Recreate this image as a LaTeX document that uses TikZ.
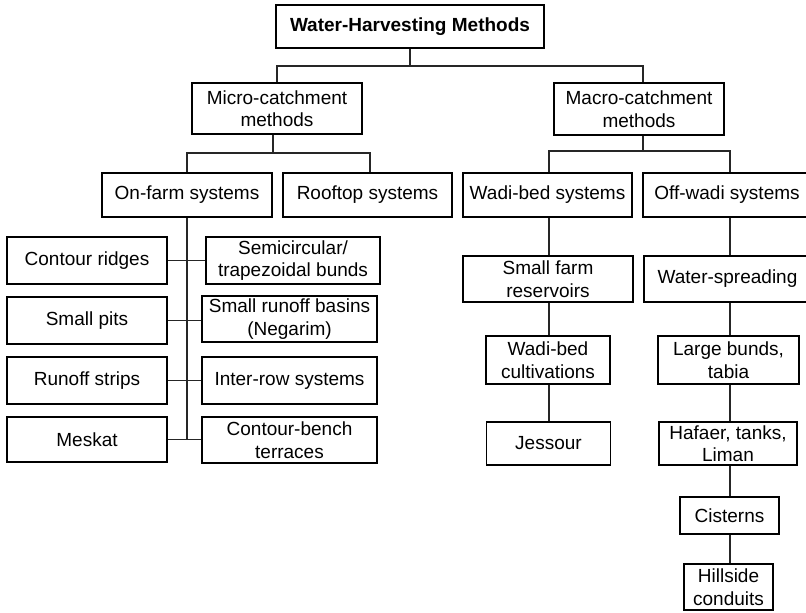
\documentclass[tikz,border=0pt]{standalone}
\usepackage{fontspec}
\setmainfont{Liberation Sans}
\begin{document}
\begin{tikzpicture}[x=1pt,y=-1pt,
  box/.style={draw=black, line width=1.1pt, align=center, inner sep=0pt,
    font=\fontsize{19}{22.5}\selectfont},
  link/.style={draw=black!85, line width=1.1pt}]
\useasboundingbox (0,0) rectangle (806,613);

% top level
\node[box, minimum width=268, minimum height=43, font=\fontsize{19}{22.5}\selectfont\bfseries]
  (title) at (410,26.5) {Water-Harvesting Methods};
\node[box, minimum width=170, minimum height=51] (micro) at (277,108.5) {Micro-catchment\\methods};
\node[box, minimum width=170, minimum height=52] (macro) at (639,109) {Macro-catchment\\methods};

% second level
\node[box, minimum width=170, minimum height=44] (onfarm) at (187,195) {On-farm systems};
\node[box, minimum width=169, minimum height=44] (rooftop) at (367.5,195) {Rooftop systems};
\node[box, minimum width=169, minimum height=44] (wadibed) at (547.5,195) {Wadi-bed systems};
\node[box, minimum width=168, minimum height=44] (offwadi) at (727,195) {Off-wadi systems};

% on-farm systems
\node[box, minimum width=160, minimum height=47] (ridges) at (87,260.5) {Contour ridges};
\node[box, minimum width=174, minimum height=47] (semi) at (293,260.5) {Semicircular/\\trapezoidal bunds};
\node[box, minimum width=160, minimum height=47] (pits) at (87,320.5) {Small pits};
\node[box, minimum width=175, minimum height=46] (basins) at (289.5,319) {Small runoff basins\\(Negarim)};
\node[box, minimum width=160, minimum height=47] (strips) at (87,380.5) {Runoff strips};
\node[box, minimum width=175, minimum height=47] (interrow) at (289.5,380.5) {Inter-row systems};
\node[box, minimum width=160, minimum height=45] (meskat) at (87,439.5) {Meskat};
\node[box, minimum width=175, minimum height=46] (bench) at (289.5,440) {Contour-bench\\terraces};

% wadi-bed systems
\node[box, minimum width=170, minimum height=46] (reserv) at (548,279) {Small farm\\reservoirs};
\node[box, minimum width=124, minimum height=48] (cultiv) at (548,360) {Wadi-bed\\cultivations};
\node[box, minimum width=124, minimum height=43] (jessour) at (548.5,443.5) {Jessour};

% off-wadi systems
\node[box, minimum width=167, minimum height=46] (spread) at (727.5,279) {Water-spreading};
\node[box, minimum width=141, minimum height=48] (bunds) at (728.5,360) {Large bunds,\\tabia};
\node[box, minimum width=138, minimum height=43] (hafaer) at (728,443.5) {Hafaer, tanks,\\Liman};
\node[box, minimum width=99, minimum height=37] (cisterns) at (729.5,515.5) {Cisterns};
\node[box, minimum width=89, minimum height=46] (hillside) at (728.5,587) {Hillside\\conduits};

% branching points and column lines
\coordinate (barA) at (277,66);
\coordinate (barB) at (643,66);
\coordinate (barC) at (187,153);
\coordinate (barD) at (370,153);
\coordinate (barE) at (549,151);
\coordinate (barF) at (730,151);
\coordinate (spine) at (187,0);
\coordinate (colW) at (549,0);
\coordinate (colO) at (730,0);

% connectors
\draw[link] (title.south) -- (title.south |- barA);
\draw[link] (micro.north) -- (barA) -- (barB) -- (barB |- macro.north);
\draw[link] (micro.south -| 273,0) -- (273,153);
\draw[link] (onfarm.north) -- (barC) -- (barD) -- (barD |- rooftop.north);
\draw[link] (macro.south -| barB) -- (barB |- barE);
\draw[link] (wadibed.north -| barE) -- (barE) -- (barF) -- (barF |- offwadi.north);

\draw[link] (onfarm.south) -- (spine |- meskat.east);
\draw[link] (ridges.east) -- (ridges.east -| semi.west);
\draw[link] (pits.east) -- (pits.east -| basins.west);
\draw[link] (strips.east) -- (strips.east -| interrow.west);
\draw[link] (meskat.east) -- (meskat.east -| bench.west);

\draw[link] (wadibed.south -| colW) -- (reserv.north -| colW);
\draw[link] (reserv.south -| colW) -- (cultiv.north -| colW);
\draw[link] (cultiv.south -| colW) -- (jessour.north -| colW);

\draw[link] (offwadi.south -| colO) -- (spread.north -| colO);
\draw[link] (spread.south -| colO) -- (bunds.north -| colO);
\draw[link] (bunds.south -| colO) -- (hafaer.north -| colO);
\draw[link] (hafaer.south -| colO) -- (cisterns.north -| colO);
\draw[link] (cisterns.south -| colO) -- (hillside.north -| colO);
\end{tikzpicture}
\end{document}
